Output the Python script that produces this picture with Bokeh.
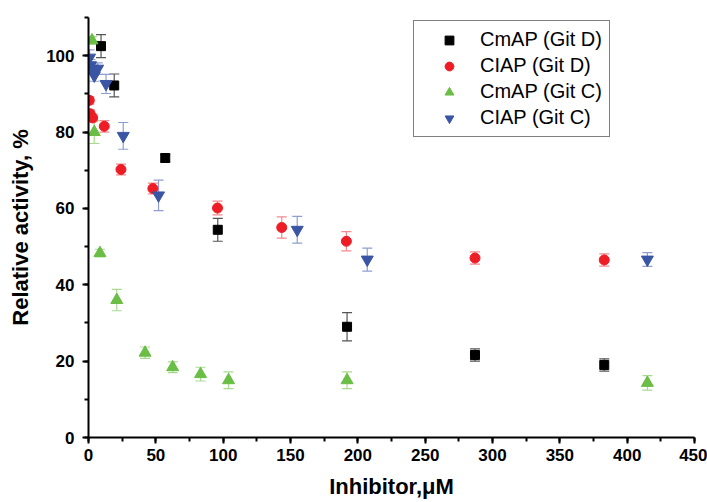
from bokeh.plotting import figure
from bokeh.models import (Range1d, SingleIntervalTicker, ColumnDataSource, Whisker,
                          TeeHead, Legend, LegendItem)
from bokeh.embed import file_html
from bokeh.resources import INLINE

# ---- data ----
cmap_d_x = [9.3, 19.1, 57.0, 96.0, 192.0, 287.0, 383.0]
cmap_d_y = [102.5, 92.2, 73.2, 54.4, 29.0, 21.6, 19.0]
cmap_d_e = [3.0, 3.0, 1.0, 3.0, 3.7, 1.6, 1.6]

ciap_d_x = [0.6, 1.2, 3.1, 11.7, 24.1, 47.8, 95.8, 143.5, 191.5, 287.0, 383.0]
ciap_d_y = [88.3, 84.8, 83.7, 81.5, 70.2, 65.2, 60.1, 55.0, 51.4, 47.0, 46.5]
ciap_d_e = [1.0, 1.0, 1.0, 1.5, 1.4, 1.4, 1.8, 2.8, 2.5, 1.6, 1.6]

cmap_c_x = [2.6, 4.3, 8.5, 21.0, 42.0, 62.5, 83.2, 104.0, 192.0, 415.0]
cmap_c_y = [104.0, 80.0, 48.3, 36.0, 22.2, 18.4, 16.6, 15.0, 15.0, 14.3]
cmap_c_e = [1.0, 3.0, 1.0, 2.8, 1.5, 1.4, 1.8, 2.2, 2.2, 1.9]

ciap_c_x = [0.8, 1.5, 3.1, 4.3, 6.8, 13.0, 25.8, 52.0, 155.0, 207.0, 415.0]
ciap_c_y = [99.5, 97.5, 96.6, 94.8, 96.6, 92.6, 79.0, 63.4, 54.4, 46.6, 46.6]
ciap_c_e = [2.0, 1.5, 1.5, 1.5, 1.5, 2.5, 3.5, 4.0, 3.5, 3.0, 1.8]

series_names = ["CmAP (Git D)", "CIAP (Git D)", "CmAP (Git C)", "CIAP (Git C)"]

p = figure(width=707, height=502, output_backend="svg", toolbar_location=None,
           x_range=Range1d(0, 450), y_range=Range1d(0, 110),
           min_border_left=88, min_border_right=13, min_border_top=17, min_border_bottom=65)
p.outline_line_color = None
p.xgrid.visible = False
p.ygrid.visible = False
p.background_fill_color = "white"
p.border_fill_color = "white"

p.xaxis.ticker = SingleIntervalTicker(interval=50, num_minor_ticks=2)
p.yaxis.ticker = SingleIntervalTicker(interval=20, num_minor_ticks=2)

for ax in (p.xaxis, p.yaxis):
    ax.axis_line_width = 2
    ax.axis_line_color = "black"
    ax.major_tick_line_width = 2
    ax.minor_tick_line_width = 2
    ax.major_tick_in = 0
    ax.major_tick_out = 6
    ax.minor_tick_in = 0
    ax.minor_tick_out = 4
    ax.major_label_text_font = "Liberation Sans"
    ax.major_label_text_font_style = "bold"
    ax.major_label_text_font_size = "17px"
    ax.major_label_text_color = "black"
    ax.axis_label_text_font = "Liberation Sans"
    ax.axis_label_text_font_style = "bold"
    ax.axis_label_text_font_size = "22px"
    ax.axis_label_text_color = "black"

p.xaxis.axis_label = "Inhibitor,\u03bcM"
p.yaxis.axis_label = "Relative activity, %"
p.xaxis.major_label_standoff = 5
p.yaxis.major_label_standoff = 8
p.xaxis.axis_label_standoff = 10
p.yaxis.axis_label_standoff = 10

specs = [
    (cmap_d_x, cmap_d_y, cmap_d_e, "square", 9, "#000000", "#555555"),
    (ciap_d_x, ciap_d_y, ciap_d_e, "circle", 10, "#ee1c25", "#f28a8e"),
    (cmap_c_x, cmap_c_y, cmap_c_e, "triangle", 12, "#6abd45", "#a9d98f"),
    (ciap_c_x, ciap_c_y, ciap_c_e, "inverted_triangle", 12, "#3a55a4", "#8e9fcf"),
]

items = []
for (xs, ys, es, marker, size, color, ecolor), name in zip(specs, series_names):
    src = ColumnDataSource(dict(x=xs, y=ys,
                                lo=[y - e for y, e in zip(ys, es)],
                                hi=[y + e for y, e in zip(ys, es)]))
    w = Whisker(source=src, base="x", lower="lo", upper="hi",
                line_color=ecolor, line_width=1.2,
                upper_head=TeeHead(size=10, line_color=ecolor, line_width=1.2),
                lower_head=TeeHead(size=10, line_color=ecolor, line_width=1.2))
    p.add_layout(w)
    r = p.scatter("x", "y", source=src, marker=marker, size=size,
                  fill_color=color, line_color=color)
    items.append(LegendItem(label=name, renderers=[r]))

legend = Legend(items=items, location=(325, 300),
                label_text_font="Liberation Sans", label_text_font_size="20px",
                label_text_color="black",
                glyph_width=56, glyph_height=22, label_height=22, spacing=3,
                label_standoff=3, padding=7, margin=0,
                border_line_color="black", border_line_width=1,
                background_fill_color="white", background_fill_alpha=1)
p.add_layout(legend, "center")

open("out.html", "w").write(file_html(p, INLINE))
